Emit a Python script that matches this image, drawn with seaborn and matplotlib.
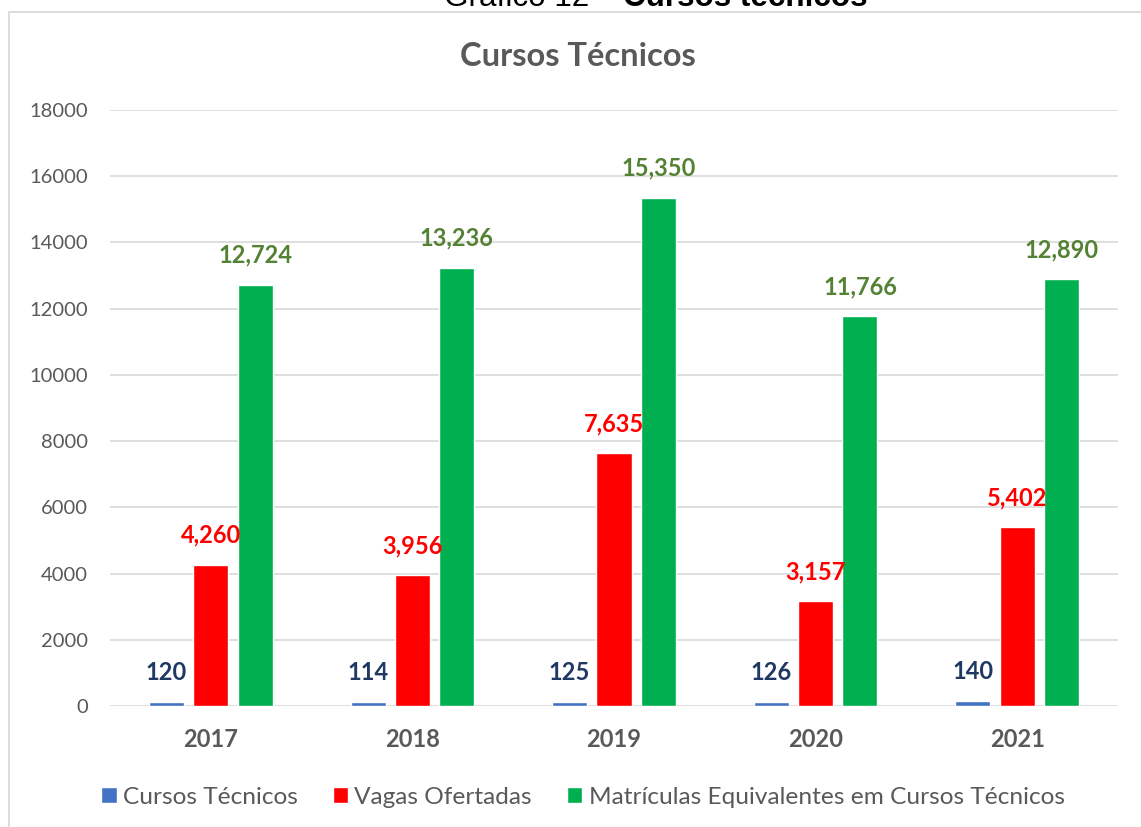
import matplotlib
matplotlib.use("Agg")
import matplotlib.pyplot as plt
import matplotlib.patches as mpatches
import pandas as pd
import seaborn as sns

# --- data -------------------------------------------------------------
years = ["2017", "2018", "2019", "2020", "2021"]
series = ["Cursos Técnicos", "Vagas Ofertadas",
          "Matrículas Equivalentes em Cursos Técnicos"]
cursos = [120, 114, 125, 126, 140]
vagas = [4260, 3956, 7635, 3157, 5402]
matriculas = [12724, 13236, 15350, 11766, 12890]
y_ticks = [0, 2000, 4000, 6000, 8000, 10000, 12000, 14000, 16000, 18000]

bar_colors = ["#4472C4", "#FF0000", "#00B050"]
label_colors = ["#1F3864", "#FF0000", "#548235"]
text_gray = "#595959"
grid_gray = "#D9D9D9"

df = pd.DataFrame({
    "ano": years * 3,
    "serie": [s for s in series for _ in years],
    "valor": cursos + vagas + matriculas,
})

sns.set_theme(style="white")
plt.rcParams["font.family"] = ["Lato", "DejaVu Sans"]

W, H = 1141, 827
fig = plt.figure(figsize=(W / 100, H / 100), dpi=100)
ax = fig.add_axes([110 / W, 1 - 706 / H, (1118 - 110) / W, (706 - 110) / H])

sns.barplot(data=df, x="ano", y="valor", hue="serie", order=years,
            hue_order=series, palette=bar_colors, width=0.66, gap=0.21,
            saturation=1, ax=ax, errorbar=None)

ax.set_ylim(0, 18000)
ax.set_yticks(y_ticks)
ax.set_yticklabels([str(t) for t in y_ticks])
ax.set_xlabel("")
ax.set_ylabel("")
for s in ax.spines.values():
    s.set_visible(False)
ax.yaxis.grid(True, color=grid_gray, linewidth=1.2)
ax.set_axisbelow(True)
ax.tick_params(axis="y", length=0, pad=16, labelsize=14.5, labelcolor=text_gray)
ax.tick_params(axis="x", length=0, pad=16, labelsize=17, labelcolor=text_gray)
for lbl in ax.get_xticklabels():
    lbl.set_fontweight("bold")

# value labels above each bar
for cont, col in zip(ax.containers, label_colors):
    ax.bar_label(cont, labels=[f"{int(v.get_height()):,}" for v in cont],
                 padding=13, color=col, fontsize=17, fontweight="bold")

# legend under the plot
handles, labels = ax.get_legend_handles_labels()
ax.get_legend().remove()
fig.legend(handles, labels, loc="center", bbox_to_anchor=(583 / W, 1 - 797 / H),
           ncol=3, frameon=False, fontsize=17.6, labelcolor=text_gray,
           handlelength=0.62, handleheight=0.62, handletextpad=0.25,
           columnspacing=1.45)

# chart title
fig.text(578 / W, 1 - 56 / H, "Cursos Técnicos", ha="center", va="center",
         fontsize=23.5, fontweight="bold", color=text_gray)

# caption above the chart frame
fig.text(616 / W, 1 - 6 / H, "Gráfico 12 –", ha="right", va="baseline",
         fontsize=22.6, color="black", family=["Liberation Sans", "DejaVu Sans"])
fig.text(623 / W, 1 - 6 / H, "Cursos técnicos", ha="left", va="baseline",
         fontsize=22.6, fontweight="bold", color="black",
         family=["Liberation Sans", "DejaVu Sans"])

# chart frame
frame = mpatches.Rectangle((8.5 / W, -0.05), 1.2, 1.05 - 11.5 / H,
                           transform=fig.transFigure, fill=False,
                           edgecolor=grid_gray, linewidth=1.3)
fig.add_artist(frame)

fig.savefig("out.png", dpi=100)
